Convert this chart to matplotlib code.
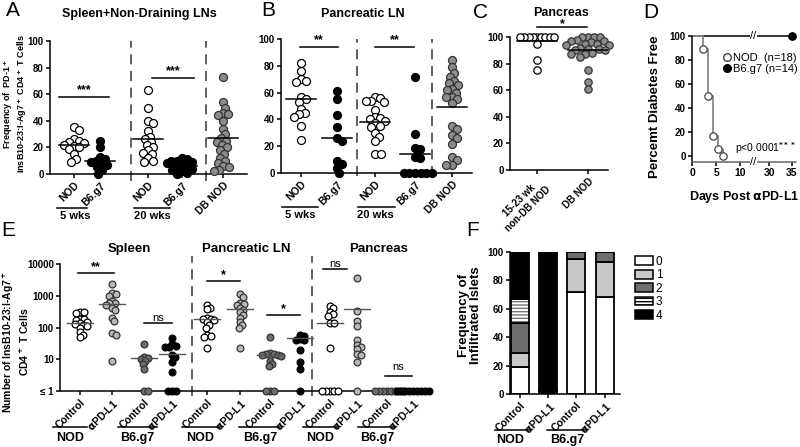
import numpy as np
import matplotlib
matplotlib.use('Agg')
import matplotlib.pyplot as plt
from matplotlib.lines import Line2D
from matplotlib.patches import Patch

plt.rcParams['font.family'] = ['Liberation Sans', 'DejaVu Sans']
plt.rcParams['font.weight'] = 'bold'
plt.rcParams['mathtext.default'] = 'bf'
plt.rcParams['axes.linewidth'] = 1.1
plt.rcParams['xtick.major.width'] = 1.1
plt.rcParams['ytick.major.width'] = 1.1
plt.rcParams['xtick.major.size'] = 3
plt.rcParams['ytick.major.size'] = 3
plt.rcParams['xtick.labelsize'] = 7.5
plt.rcParams['ytick.labelsize'] = 7

# ---- data ----
# A: spleen + non-draining LNs, % PD-1+
a_labels = ['NOD', 'B6.g7', 'NOD', 'B6.g7', 'DB NOD']
a_nod5 = [35, 33, 26, 25, 24, 23, 22, 21, 20, 19, 15, 11, 9]
a_b6_5 = [25, 20, 13, 11, 10, 9, 8, 7, 5, 3, 0]
a_nod20 = [63, 50, 40, 38, 32, 28, 26, 24, 22, 20, 18, 16, 15, 12, 10, 9]
a_b6_20 = [12, 11, 10, 10, 9, 8, 7, 6, 5, 4, 3, 2, 1, 0]
a_db = [73, 54, 50, 46, 45, 44, 40, 34, 30, 27, 25, 24, 22, 20, 18, 15, 12, 10,
        8, 6, 5, 3, 2]
a_means = [22, 10, 26, 6, 27]

# B: pancreatic LN
b_nod5 = [82, 76, 70, 69, 68, 57, 55, 53, 48, 45, 44, 42, 35, 25]
b_b6_5 = [61, 55, 43, 34, 26, 24, 9, 7, 4, 0]
b_nod20 = [57, 56, 54, 54, 53, 47, 42, 41, 40, 39, 37, 35, 34, 30, 27, 24, 14, 14]
b_b6_20 = [72, 29, 19, 18, 12, 11, 0, 0, 0, 0, 0, 0]
b_db = [84, 79, 75, 72, 69, 67, 66, 63, 62, 60, 57, 57, 55, 52, 35, 33, 28, 26,
        22, 12, 10, 6, 6]
b_means = [55, 26, 38, 14, 49]

# C: pancreas
c_labels = ['15-23 wk\nnon-DB NOD', 'DB NOD']
c_nondb = [100, 100, 100, 100, 100, 100, 100, 100, 100, 95, 83, 75]
c_db = [100, 100, 100, 100, 98, 97, 97, 96, 95, 95, 94, 94, 92, 91, 91, 90, 90,
        88, 87, 87, 85, 75, 66, 61]
c_means = [97, 90]

# D: diabetes-free survival
d_nod_days = [0, 2.2, 3.3, 4.4, 5.4, 6.5]
d_nod_surv = [100, 89, 50, 17, 6, 0]
d_b6_days = [0, 35]
d_b6_surv = [100, 100]

# E: number of InsB10-23:I-Ag7+ CD4+ T cells (spleen, PLN, pancreas)
e_ticklabels = ['Control', r'$\alpha$PD-L1'] * 6
e_spl_nod_ctrl = [310, 300, 280, 190, 180, 170, 150, 140, 130, 120, 110, 100, 70, 60, 50]
e_spl_nod_apd = [2300, 1200, 1100, 1000, 700, 600, 580, 500, 400, 350, 200, 160, 65, 60, 9]
e_spl_b6_ctrl = [30, 12, 11, 10, 9, 7, 5, 1, 1]
e_spl_b6_apd = [48, 30, 27, 25, 25, 14, 12, 8, 4, 1, 1, 1]
e_pln_nod_ctrl = [500, 420, 370, 200, 190, 180, 170, 150, 120, 100, 60, 55, 50, 22]
e_pln_nod_apd = [1100, 900, 600, 550, 500, 400, 350, 300, 250, 200, 150, 120, 100, 22]
e_pln_b6_ctrl = [50, 16, 15, 15, 14, 14, 13, 9, 7, 6, 1, 1, 1]
e_pln_b6_apd = [60, 55, 45, 40, 40, 20, 8, 5, 1]
e_pan_nod_ctrl = [490, 400, 300, 260, 235, 140, 140, 22, 1, 1, 1, 1, 1]
e_pan_nod_apd = [3700, 330, 160, 110, 40, 28, 25, 21, 15, 14, 8, 1]
e_pan_b6_ctrl = [1, 1, 1, 1, 1, 1, 1, 1]
e_pan_b6_apd = [1, 1, 1, 1, 1, 1, 1, 1, 1]
e_means = [140, 560, 11, 15, 180, 370, 14, 48, 140, 380, 1, 1]

# F: insulitis scores (% of islets)
f_ticklabels = ['Control', r'$\alpha$PD-L1', 'Control', r'$\alpha$PD-L1']
f_score0 = [19, 0, 72, 68]
f_score1 = [10, 1, 23, 25]
f_score2 = [21, 1, 5, 7]
f_score3 = [17, 1, 0, 0]
f_score4 = [33, 97, 0, 0]

W, H = 800, 447
fig = plt.figure(figsize=(8, 4.47), dpi=100)


def px_axes(l, t, r, b):
    return fig.add_axes([l / W, 1 - b / H, (r - l) / W, (b - t) / H])


def ftext(x, y, s, **kw):
    kw.setdefault('ha', 'center')
    kw.setdefault('va', 'center')
    fig.text(x / W, 1 - y / H, s, **kw)


def fline(x0, x1, y):
    fig.add_artist(Line2D([x0 / W, x1 / W], [1 - y / H] * 2, color='black',
                          lw=1.1, transform=fig.transFigure))


def swarm(ax, xc, vals, d):
    # simple beeswarm in display space
    vals = np.asarray(vals, float)
    pts = ax.transData.transform(np.column_stack([np.full(len(vals), xc), vals]))
    ys = pts[:, 1]
    x0 = pts[0, 0]
    xs = np.zeros(len(vals))
    placed = []
    for i in np.argsort(-ys, kind='stable'):
        cands = [0.0]
        for px, py in placed:
            dy = ys[i] - py
            if abs(dy) < d:
                dx = np.sqrt(d * d - dy * dy)
                cands += [px + dx, px - dx]
        cands.sort(key=abs)
        for c in cands:
            if all((c - px) ** 2 + (ys[i] - py) ** 2 >= d * d - 1e-6 for px, py in placed):
                xs[i] = c
                break
        placed.append((xs[i], ys[i]))
    return ax.transData.inverted().transform(np.column_stack([x0 + xs, ys]))[:, 0]


def dots(ax, xc, vals, fc, ec='black', s=33, d=6.0):
    xs = swarm(ax, xc, vals, d)
    ax.scatter(xs, vals, s=s, facecolor=fc, edgecolor=ec, linewidth=0.9,
               clip_on=False, zorder=3)


def style(ax):
    for sp in ['top', 'right']:
        ax.spines[sp].set_visible(False)
    ax.tick_params(direction='out', pad=1.5)


def sig(ax, x0, x1, y, s, dy, fs=9, weight='bold'):
    ax.plot([x0, x1], [y, y], color='black', lw=1.1, clip_on=False)
    ax.text((x0 + x1) / 2, y + dy, s, ha='center', va='bottom', fontsize=fs,
            fontweight=weight)


WHITE, BLACK, GRAY, LGRAY, DGRAY = 'white', 'black', '#8c8c8c', '#b8b8b8', '#6e6e6e'

# ---------------- Panel A ----------------
axA = px_axes(50, 41, 247, 174)
style(axA)
axA.set_xlim(0, 197)
axA.set_ylim(0, 100)
axA.set_yticks(range(0, 101, 20))
a_pos = [24, 50, 98, 132, 173]
axA.set_xticks(a_pos, a_labels, rotation=45, ha='right', rotation_mode='anchor')
for xd in [81, 156]:
    axA.axvline(xd, ymin=-0.05, ymax=1, color='#444', lw=1.2, ls=(0, (6, 4)), clip_on=False)
for xc, v, fc in zip(a_pos, [a_nod5, a_b6_5, a_nod20, a_b6_20, a_db],
                     [WHITE, BLACK, WHITE, BLACK, GRAY]):
    dots(axA, xc, v, fc, ec='black' if fc != GRAY else '#333', d=5.6)
for xc, m in zip(a_pos, a_means):
    axA.plot([xc - 15, xc + 15], [m, m], color='black', lw=1.1, zorder=4)
sig(axA, 9, 59, 58, '***', 0.5)
sig(axA, 102, 144, 72, '***', 0.5)
fline(57, 87, 208)
fline(134, 170, 208)
ftext(75, 216, '5 wks', fontsize=8)
ftext(152, 216, '20 wks', fontsize=8)
ftext(139, 14, 'Spleen+Non-Draining LNs', fontsize=9)
ftext(15, 104, 'Frequency of  PD-1$^+$\nInsB10-23:I-Ag7$^+$ CD4$^+$ T Cells',
      fontsize=6.5, rotation=90, multialignment='center', linespacing=1.1)

# ---------------- Panel B ----------------
axB = px_axes(281, 39, 472, 173)
style(axB)
axB.set_xlim(0, 191)
axB.set_ylim(0, 100)
axB.set_yticks(range(0, 101, 20))
b_pos = [20, 56, 94, 134, 171]
axB.set_xticks(b_pos, a_labels, rotation=45, ha='right', rotation_mode='anchor')
for xd in [76, 151]:
    axB.axvline(xd, ymin=-0.02, ymax=1, color='#444', lw=1.2, ls=(0, (6, 4)), clip_on=False)
for xc, v, fc in zip(b_pos, [b_nod5, b_b6_5, b_nod20, b_b6_20, b_db],
                     [WHITE, BLACK, WHITE, BLACK, GRAY]):
    dots(axB, xc, v, fc, ec='black' if fc != GRAY else '#333', d=5.6)
for xc, m in zip(b_pos, b_means):
    axB.plot([xc - 15, xc + 15], [m, m], color='black', lw=1.1, zorder=4)
sig(axB, 19, 57, 94, '**', 0.5)
sig(axB, 94, 133, 94, '**', 0.5)
fline(282, 318, 207)
fline(358, 395, 207)
ftext(300, 215, '5 wks', fontsize=8)
ftext(375, 215, '20 wks', fontsize=8)
ftext(363, 14, 'Pancreatic LN', fontsize=9)

# ---------------- Panel C ----------------
axC = px_axes(510, 37, 608, 170)
style(axC)
axC.set_xlim(0, 98)
axC.set_ylim(0, 100)
axC.set_yticks(range(0, 101, 20))
c_pos = [27, 78]
axC.set_xticks(c_pos, c_labels, rotation=45, ha='right', rotation_mode='anchor',
               multialignment='center', fontsize=7)
dots(axC, c_pos[0], c_nondb, WHITE, s=28, d=4.2)
dots(axC, c_pos[1], c_db, GRAY, ec='#333', s=28, d=6.0)
for xc, m in zip(c_pos, c_means):
    axC.plot([xc - 20, xc + 20], [m, m], color='black', lw=1.1, zorder=4)
sig(axC, 27, 77, 107.5, '*', -2)
ftext(561, 13, 'Pancreas', fontsize=9)

# ---------------- Panel D ----------------
def fwd(x):
    x = np.asarray(x, float)
    return np.where(x <= 12.7, x, np.where(x >= 26.4, 16.04 + (x - 30) * 0.917, 12.7))


def inv(y):
    y = np.asarray(y, float)
    return np.where(y <= 12.7, y, 30 + (y - 16.04) / 0.917)


axD = px_axes(692, 36, 796, 162)
style(axD)
axD.set_xscale('function', functions=(fwd, inv))
axD.set_xlim(0, 36)
axD.set_ylim(-5, 100)
axD.set_yticks(range(0, 101, 20))
axD.set_xticks([0, 5, 10, 30, 35])
axD.spines['bottom'].set_color('#666')
axD.step(d_b6_days, d_b6_surv, where='post', color='black', lw=1.1, clip_on=False, zorder=2)
axD.step(d_nod_days, d_nod_surv, where='post', color='#888', lw=1.3, clip_on=False, zorder=2)
axD.scatter(d_nod_days[1:], d_nod_surv[1:], s=28, facecolor='white', edgecolor='#444',
            lw=0.9, zorder=3, clip_on=False)
axD.scatter(d_b6_days[1:], d_b6_surv[1:], s=28, facecolor='black', edgecolor='black',
            zorder=3, clip_on=False)
for yb in [100, -5]:
    axD.text(20, yb, '//', ha='center', va='center', fontsize=8, fontweight='normal',
             clip_on=False, zorder=5,
             bbox=dict(facecolor='white', edgecolor='none', pad=0.3))
hD = [Line2D([], [], marker='o', ls='none', mfc='white', mec='#444', ms=5.5),
      Line2D([], [], marker='o', ls='none', mfc='black', mec='black', ms=5.5)]
axD.legend(hD, ['NOD  (n=18)', 'B6.g7 (n=14)'], loc='upper left',
           bbox_to_anchor=(716 / W, 1 - 47 / H), bbox_transform=fig.transFigure,
           frameon=False, handletextpad=0.05, borderpad=0, labelspacing=0.1,
           handlelength=1.0, prop={'size': 8, 'weight': 'normal'})
ftext(766, 148, 'p<0.0001$^{***}$', fontsize=7.5, fontweight='normal')
ftext(655, 107, 'Percemt Diabetes Free', fontsize=9.5, rotation=90)
ftext(744, 197, r'Days Post $\alpha$PD-L1', fontsize=9)

# ---------------- Panel E ----------------
axE = px_axes(60, 264, 427, 391)
style(axE)
axE.set_xlim(0, 367)
axE.set_yscale('log')
axE.set_ylim(1, 10000)
axE.set_yticks([1, 10, 100, 1000, 10000], ['\u2264 1', '10', '100', '1000', '10000'])
axE.minorticks_off()
e_pos = [20, 52, 84, 112, 147, 180, 210, 240, 270, 297, 327, 353]
axE.set_xticks(e_pos, e_ticklabels, rotation=45, ha='right', rotation_mode='anchor')
for xd in [132, 252]:
    axE.axvline(xd, ymin=-0.04, ymax=1.06, color='#444', lw=1.2, ls=(0, (6, 4)), clip_on=False)
e_sets = [e_spl_nod_ctrl, e_spl_nod_apd, e_spl_b6_ctrl, e_spl_b6_apd,
          e_pln_nod_ctrl, e_pln_nod_apd, e_pln_b6_ctrl, e_pln_b6_apd,
          e_pan_nod_ctrl, e_pan_nod_apd, e_pan_b6_ctrl, e_pan_b6_apd]
e_fc = [WHITE, LGRAY, DGRAY, BLACK] * 3
for xc, v, fc in zip(e_pos, e_sets, e_fc):
    dots(axE, xc, v, fc, ec='black' if fc == WHITE or fc == BLACK else '#333', s=24, d=3.9)
for xc, m in zip(e_pos, e_means):
    axE.plot([xc - 13, xc + 13], [m, m], color='#555', lw=1.0, zorder=4)
sig(axE, 18, 54, 5200, '**', 1.08)
sig(axE, 84, 112, 140, 'ns', 1.08, fs=8, weight='normal')
sig(axE, 147, 180, 2900, '*', 1.02)
sig(axE, 207, 240, 245, '*', 1.02)
sig(axE, 263, 287, 6900, 'ns', 1.08, fs=8, weight='normal')
sig(axE, 325, 352, 3.0, 'ns', 1.08, fs=8, weight='normal')
for x0, x1, xc, lab in [(53, 87, 70, 'NOD'), (118, 157, 137, 'B6.g7'),
                        (182, 220, 200, 'NOD'), (239, 280, 260, 'B6.g7'),
                        (303, 338, 320, 'NOD'), (358, 395, 377, 'B6.g7')]:
    fline(x0, x1, 427)
    ftext(xc, 438, lab, fontsize=9)
ftext(129, 249, 'Spleen', fontsize=9.5)
ftext(246, 249, 'Pancreatic LN', fontsize=9.5)
ftext(379, 249, 'Pancreas', fontsize=9.5)
ftext(16, 342, 'Number of InsB10-23:I-Ag7$^+$\nCD4$^+$ T Cells', fontsize=7.5,
      rotation=90, multialignment='center', linespacing=1.1)

# ---------------- Panel F ----------------
axF = px_axes(510, 252, 620, 394)
style(axF)
axF.set_xlim(0, 110)
axF.set_ylim(0, 100)
axF.set_yticks(range(0, 101, 20))
f_pos = [10, 38.5, 66.5, 95]
axF.set_xticks(f_pos, f_ticklabels, rotation=45, ha='right', rotation_mode='anchor')
bottom = np.zeros(4)
f_cols = ['white', '#c8c8c8', '#6e6e6e', 'white', 'black']
handles = []
for k, (vals, col) in enumerate(zip([f_score0, f_score1, f_score2, f_score3, f_score4], f_cols)):
    vals = np.array(vals, float)
    if k == 3:
        axF.bar(f_pos, vals, width=18, bottom=bottom, color='white', edgecolor='#777',
                hatch='-----', lw=0)
        axF.bar(f_pos, vals, width=18, bottom=bottom, facecolor='none', edgecolor='black', lw=1.3)
        handles.append(Patch(facecolor='white', edgecolor='black', hatch='-----', lw=1.1))
    else:
        axF.bar(f_pos, vals, width=18, bottom=bottom, color=col, edgecolor='black', lw=1.3)
        handles.append(Patch(facecolor=col, edgecolor='black', lw=1.1))
    bottom += vals
axF.legend(handles, ['0', '1', '2', '3', '4'], loc='upper left',
           bbox_to_anchor=(629 / W, 1 - 250 / H), bbox_transform=fig.transFigure,
           frameon=False, handlelength=1.5, handleheight=0.75, labelspacing=0.12,
           borderpad=0, handletextpad=0.25,
           prop={'size': 8.5, 'weight': 'normal'})
fline(495, 529, 430)
fline(547, 585, 430)
ftext(510, 440, 'NOD', fontsize=9)
ftext(567, 440, 'B6.g7', fontsize=9)
ftext(470, 315, 'Frequency of\nInfiltrated Islets', fontsize=9.5, rotation=90,
      multialignment='center', linespacing=1.1)

# panel letters
for x, y, L in [(13, 10, 'A'), (268, 10, 'B'), (481, 12, 'C'), (651, 12, 'D'),
                (8, 230, 'E'), (473, 231, 'F')]:
    ftext(x, y, L, fontsize=15, fontweight='light')

fig.savefig('out.png', dpi=100)
